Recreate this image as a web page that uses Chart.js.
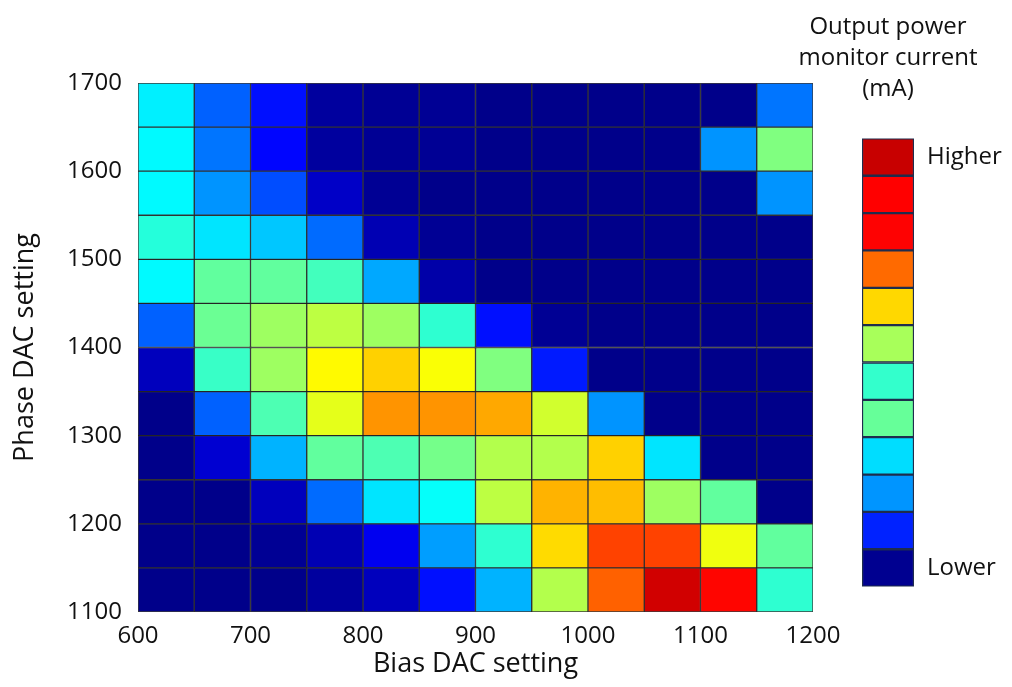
<!DOCTYPE html>
<html>
<head>
<meta charset="utf-8">
<title>Output power monitor current map</title>
<script src="https://cdn.jsdelivr.net/npm/chart.js@4.4.1/dist/chart.umd.min.js"></script>
<style>
  body { margin: 0; background: #fff; font-family: "Open Sans", sans-serif; }
  #wrap { position: relative; width: 1012px; height: 687px; }
  #mainBox { position: absolute; left: 0; top: 0; width: 1012px; height: 687px; }
  #barBox { position: absolute; left: 850px; top: 119px; width: 162px; height: 487px; }
  #barTitle { position: absolute; left: 782px; top: 9px; width: 212px; text-align: center;
              font-size: 24px; line-height: 31px; color: #111; }
</style>
</head>
<body>
<div id="wrap">
  <div id="mainBox"><canvas id="heatmap"></canvas></div>
  <div id="barTitle">Output power<br>monitor current<br>(mA)</div>
  <div id="barBox"><canvas id="colorbar"></canvas></div>
</div>
<script>
// Bias DAC cell starts (x) and phase DAC cell starts (y, top row first)
const biasStart = [600, 650, 700, 750, 800, 850, 900, 950, 1000, 1050, 1100, 1150];
const phaseStart = [1650, 1600, 1550, 1500, 1450, 1400, 1350, 1300, 1250, 1200, 1150, 1100];
const cellSize = 50;

// relative monitor current level (0 = lowest, 100 = highest), one array per phase row
const p1650 = [36, 22, 14, 3, 2, 2, 1, 1, 1, 1, 1, 24];
const p1600 = [37, 24, 13, 3, 2, 2, 1, 1, 1, 1, 27, 50];
const p1550 = [37, 27, 20, 7, 2, 1, 1, 1, 1, 1, 1, 27];
const p1500 = [41, 35, 32, 23, 5, 2, 1, 1, 1, 1, 1, 1];
const p1450 = [37, 47, 47, 44, 29, 4, 1, 1, 1, 1, 1, 1];
const p1400 = [22, 48, 53, 56, 53, 42, 14, 2, 1, 1, 1, 1];
const p1350 = [6, 43, 53, 63, 67, 62, 50, 15, 1, 1, 1, 1];
const p1300 = [1, 22, 45, 60, 73, 73, 71, 58, 27, 1, 1, 1];
const p1250 = [1, 8, 30, 47, 45, 49, 55, 55, 67, 35, 1, 1];
const p1200 = [1, 1, 6, 23, 35, 38, 56, 70, 69, 53, 47, 1];
const p1150 = [1, 1, 2, 5, 11, 28, 42, 66, 81, 81, 61, 47];
const p1100 = [1, 1, 1, 3, 6, 14, 30, 55, 78, 92, 87, 42];
const rows = [p1650, p1600, p1550, p1500, p1450, p1400, p1350, p1300, p1250, p1200, p1150, p1100];

// tick labels
const biasTicks = [600, 700, 800, 900, 1000, 1100, 1200];
const phaseTicks = [1100, 1200, 1300, 1400, 1500, 1600, 1700];

// colour bar boxes, top (higher) to bottom (lower)
const legendColors = ["#c80000", "#ff0000", "#fe0202", "#ff6a00", "#ffd800", "#a8ff5a",
                      "#33ffcc", "#66ff99", "#00ddff", "#0095ff", "#0022ff", "#000090"];
const legendLabels = ["Higher", "Lower"];

// matlab style jet colormap
function jet(v) {
  const c = (x) => Math.max(0, Math.min(1, x));
  const r = c(1.5 - Math.abs(4 * v - 3));
  const g = c(1.5 - Math.abs(4 * v - 2));
  const b = c(1.5 - Math.abs(4 * v - 1));
  return `rgb(${Math.round(r * 255)},${Math.round(g * 255)},${Math.round(b * 255)})`;
}

const cells = [];
rows.forEach((row, r) => {
  row.forEach((v, c) => {
    cells.push({
      x: biasStart[c] + cellSize / 2,
      y: [phaseStart[r], phaseStart[r] + cellSize],
      v: v
    });
  });
});

const tickFont = { family: "Open Sans", size: 24 };
const titleFont = { family: "Open Sans", size: 27 };

new Chart(document.getElementById("heatmap"), {
  type: "bar",
  data: {
    datasets: [{
      data: cells,
      backgroundColor: (ctx) => jet(ctx.raw ? ctx.raw.v / 100 : 0),
      borderColor: "rgba(10,10,10,0.8)",
      borderWidth: 1,
      borderSkipped: false,
      barPercentage: 1,
      categoryPercentage: 1
    }]
  },
  options: {
    responsive: true,
    maintainAspectRatio: false,
    animation: false,
    layout: { padding: { top: 83, right: 199, bottom: 0, left: 0 } },
    plugins: { legend: { display: false }, tooltip: { enabled: false } },
    scales: {
      x: {
        type: "linear",
        offset: false,
        min: 600,
        max: 1200,
        afterBuildTicks: (s) => { s.ticks = biasTicks.map((v) => ({ value: v })); },
        afterFit: (s) => { s.height = 75; },
        ticks: { font: tickFont, color: "#111", padding: 2, maxRotation: 0,
                 callback: (v) => String(v) },
        grid: { display: false },
        border: { display: false },
        title: { display: true, text: "Bias DAC setting", font: titleFont, color: "#111",
                 padding: { top: 0, bottom: 6 } }
      },
      y: {
        min: 1100,
        max: 1700,
        afterBuildTicks: (s) => { s.ticks = phaseTicks.map((v) => ({ value: v })); },
        afterFit: (s) => { s.width = 138; },
        ticks: { font: tickFont, color: "#111", padding: 8, callback: (v) => String(v) },
        grid: { display: false },
        border: { display: false },
        title: { display: true, text: "Phase DAC setting", font: titleFont, color: "#111",
                 padding: { top: 9, bottom: 0 } }
      }
    }
  }
});

// colour bar, bottom box first for stacking
new Chart(document.getElementById("colorbar"), {
  type: "bar",
  data: {
    labels: [""],
    datasets: legendColors.slice().reverse().map((col) => ({
      data: [1],
      backgroundColor: col,
      borderColor: "#1f2d4d",
      borderWidth: 1.5,
      borderSkipped: false,
      barPercentage: 1,
      categoryPercentage: 1
    }))
  },
  options: {
    responsive: true,
    maintainAspectRatio: false,
    animation: false,
    layout: { padding: { top: 0, right: 0, bottom: 0, left: 12 } },
    plugins: { legend: { display: false }, tooltip: { enabled: false } },
    scales: {
      x: { stacked: true, display: false },
      y: {
        stacked: true,
        position: "right",
        min: 0,
        max: legendColors.length,
        afterBuildTicks: (s) => {
          s.ticks = [{ value: legendColors.length - 0.5 }, { value: 0.5 }];
        },
        afterFit: (s) => { s.width = 98; },
        ticks: {
          font: tickFont,
          color: "#111",
          padding: 5,
          callback: (v) => (v > legendColors.length / 2 ? legendLabels[0] : legendLabels[1])
        },
        grid: { display: false },
        border: { display: false }
      }
    }
  }
});
</script>
</body>
</html>
